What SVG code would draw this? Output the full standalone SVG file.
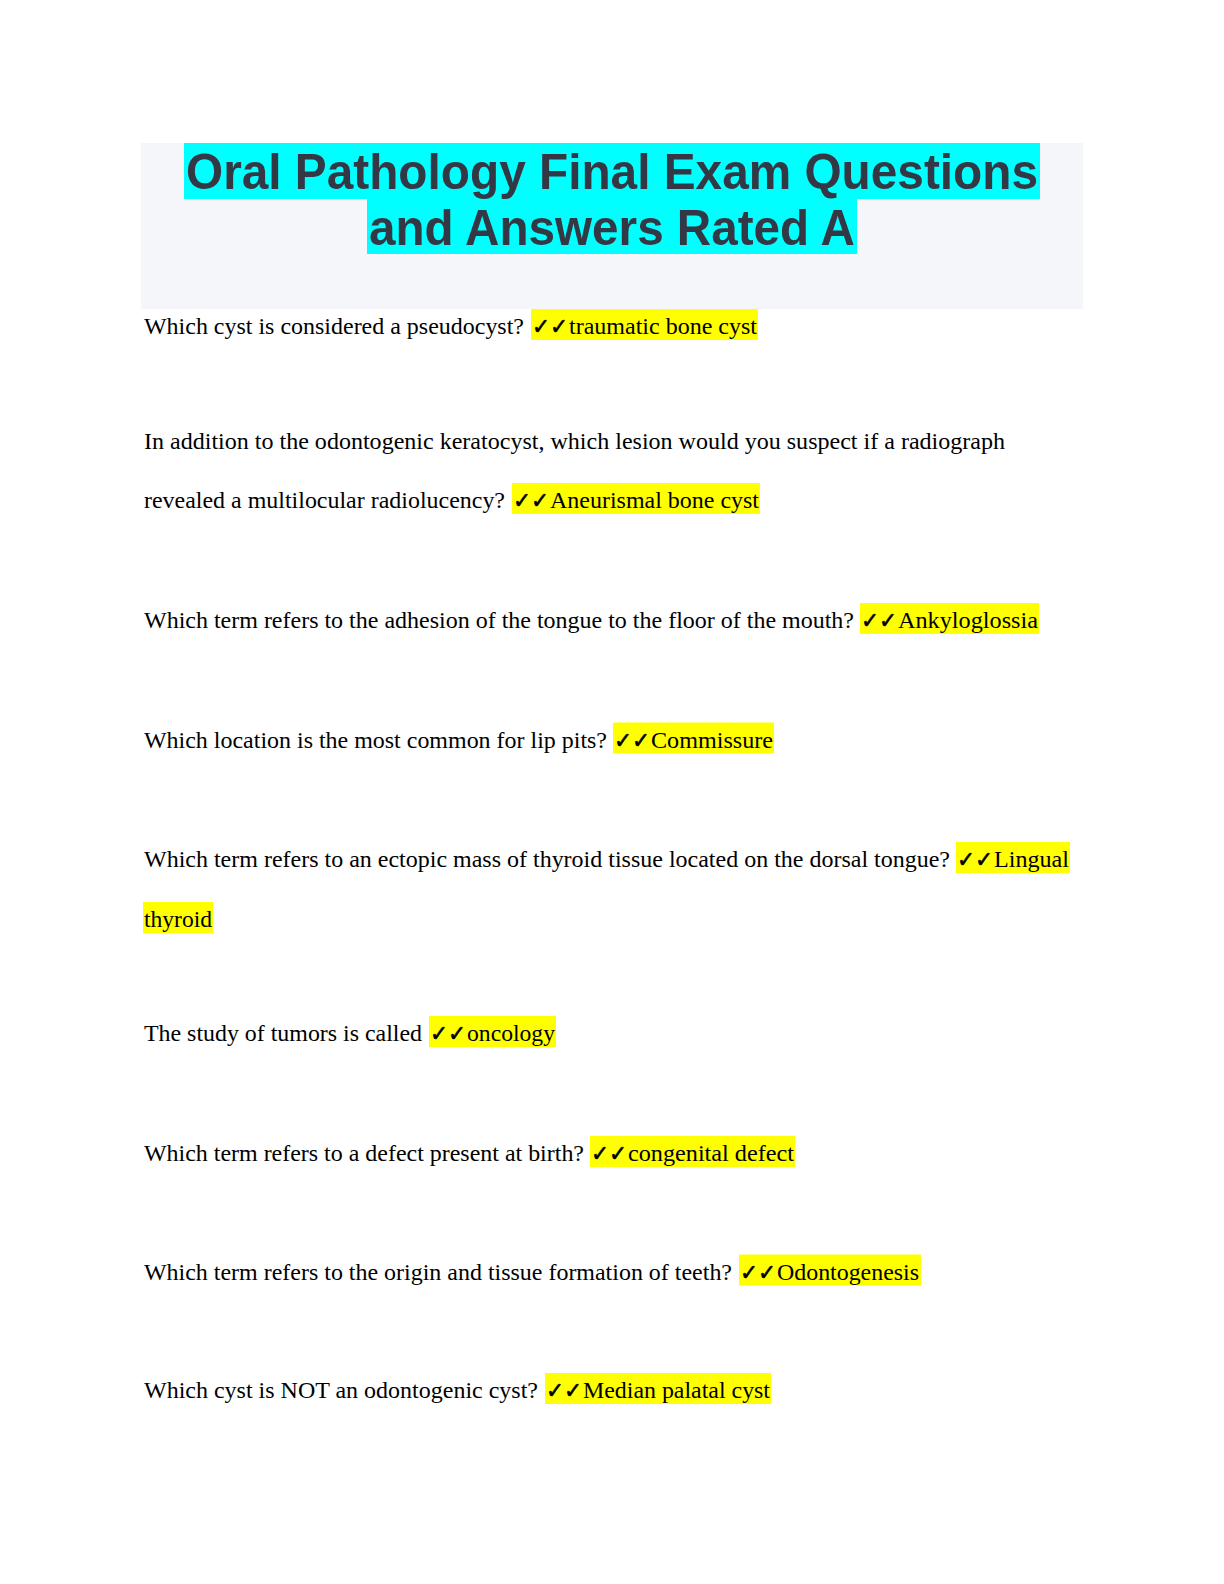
<svg xmlns="http://www.w3.org/2000/svg" width="1224" height="1584" viewBox="0 0 1224 1584">
<style>
.q{font-family:"Liberation Serif","Times New Roman",serif;font-size:23px;fill:#000}
.ck{font-family:"DejaVu Sans",sans-serif;font-size:22px;font-weight:bold;fill:#000;stroke:#000;stroke-width:0.6}
.hl{fill:#ffff00}
.t{font-family:"Liberation Sans",Arial,sans-serif;font-size:50px;font-weight:bold;fill:#333844}
</style>
<rect width="1224" height="1584" fill="#fff"/>
<g id="title">
<rect x="141" y="143" width="942" height="166" fill="#f5f6fa"/>
<rect x="184" y="143" width="856" height="56" fill="#00ffff"/>
<rect x="367" y="199" width="490" height="55" fill="#00ffff"/>
<text class="t" x="186" y="189" textLength="852" lengthAdjust="spacingAndGlyphs">Oral Pathology Final Exam Questions</text>
<text class="t" x="369" y="245" textLength="486" lengthAdjust="spacingAndGlyphs">and Answers Rated A</text>
</g>
<g id="q1">
<text class="q" x="144" y="334" textLength="380" lengthAdjust="spacingAndGlyphs">Which cyst is considered a pseudocyst?</text>
<rect class="hl" x="531" y="309" width="227" height="31"/>
<text class="ck" x="532" y="334" textLength="36" lengthAdjust="spacingAndGlyphs">✓✓</text>
<text class="q" x="569" y="334" textLength="188" lengthAdjust="spacingAndGlyphs">traumatic bone cyst</text>
</g>
<g id="q2">
<text class="q" x="144" y="448.5" textLength="861" lengthAdjust="spacingAndGlyphs">In addition to the odontogenic keratocyst, which lesion would you suspect if a radiograph</text>
<text class="q" x="144" y="508" textLength="361" lengthAdjust="spacingAndGlyphs">revealed a multilocular radiolucency?</text>
<rect class="hl" x="512" y="483" width="248" height="31"/>
<text class="ck" x="513" y="508" textLength="36" lengthAdjust="spacingAndGlyphs">✓✓</text>
<text class="q" x="550" y="508" textLength="209" lengthAdjust="spacingAndGlyphs">Aneurismal bone cyst</text>
</g>
<g id="q3">
<text class="q" x="144" y="628" textLength="710" lengthAdjust="spacingAndGlyphs">Which term refers to the adhesion of the tongue to the floor of the mouth?</text>
<rect class="hl" x="860" y="603" width="179" height="31"/>
<text class="ck" x="861" y="628" textLength="36" lengthAdjust="spacingAndGlyphs">✓✓</text>
<text class="q" x="898" y="628" textLength="140" lengthAdjust="spacingAndGlyphs">Ankyloglossia</text>
</g>
<g id="q4">
<text class="q" x="144" y="747.5" textLength="463" lengthAdjust="spacingAndGlyphs">Which location is the most common for lip pits?</text>
<rect class="hl" x="613" y="722.5" width="161" height="31"/>
<text class="ck" x="614" y="747.5" textLength="36" lengthAdjust="spacingAndGlyphs">✓✓</text>
<text class="q" x="651" y="747.5" textLength="122" lengthAdjust="spacingAndGlyphs">Commissure</text>
</g>
<g id="q5">
<text class="q" x="144" y="867" textLength="806" lengthAdjust="spacingAndGlyphs">Which term refers to an ectopic mass of thyroid tissue located on the dorsal tongue?</text>
<rect class="hl" x="956" y="842" width="114" height="31"/>
<text class="ck" x="957" y="867" textLength="36" lengthAdjust="spacingAndGlyphs">✓✓</text>
<text class="q" x="994" y="867" textLength="75" lengthAdjust="spacingAndGlyphs">Lingual</text>
<rect class="hl" x="143" y="902" width="70" height="31"/>
<text class="q" x="144" y="927" textLength="68" lengthAdjust="spacingAndGlyphs">thyroid</text>
</g>
<g id="q6">
<text class="q" x="144" y="1041" textLength="278" lengthAdjust="spacingAndGlyphs">The study of tumors is called</text>
<rect class="hl" x="429" y="1016" width="127" height="31"/>
<text class="ck" x="430" y="1041" textLength="36" lengthAdjust="spacingAndGlyphs">✓✓</text>
<text class="q" x="467" y="1041" textLength="88" lengthAdjust="spacingAndGlyphs">oncology</text>
</g>
<g id="q7">
<text class="q" x="144" y="1161" textLength="440" lengthAdjust="spacingAndGlyphs">Which term refers to a defect present at birth?</text>
<rect class="hl" x="590" y="1136" width="205" height="31"/>
<text class="ck" x="591" y="1161" textLength="36" lengthAdjust="spacingAndGlyphs">✓✓</text>
<text class="q" x="628" y="1161" textLength="166" lengthAdjust="spacingAndGlyphs">congenital defect</text>
</g>
<g id="q8">
<text class="q" x="144" y="1279.5" textLength="588" lengthAdjust="spacingAndGlyphs">Which term refers to the origin and tissue formation of teeth?</text>
<rect class="hl" x="739" y="1254.5" width="182" height="31"/>
<text class="ck" x="740" y="1279.5" textLength="36" lengthAdjust="spacingAndGlyphs">✓✓</text>
<text class="q" x="777" y="1279.5" textLength="142" lengthAdjust="spacingAndGlyphs">Odontogenesis</text>
</g>
<g id="q9">
<text class="q" x="144" y="1398" textLength="394" lengthAdjust="spacingAndGlyphs">Which cyst is NOT an odontogenic cyst?</text>
<rect class="hl" x="545" y="1373" width="226" height="31"/>
<text class="ck" x="546" y="1398" textLength="36" lengthAdjust="spacingAndGlyphs">✓✓</text>
<text class="q" x="583" y="1398" textLength="187" lengthAdjust="spacingAndGlyphs">Median palatal cyst</text>
</g>
</svg>
